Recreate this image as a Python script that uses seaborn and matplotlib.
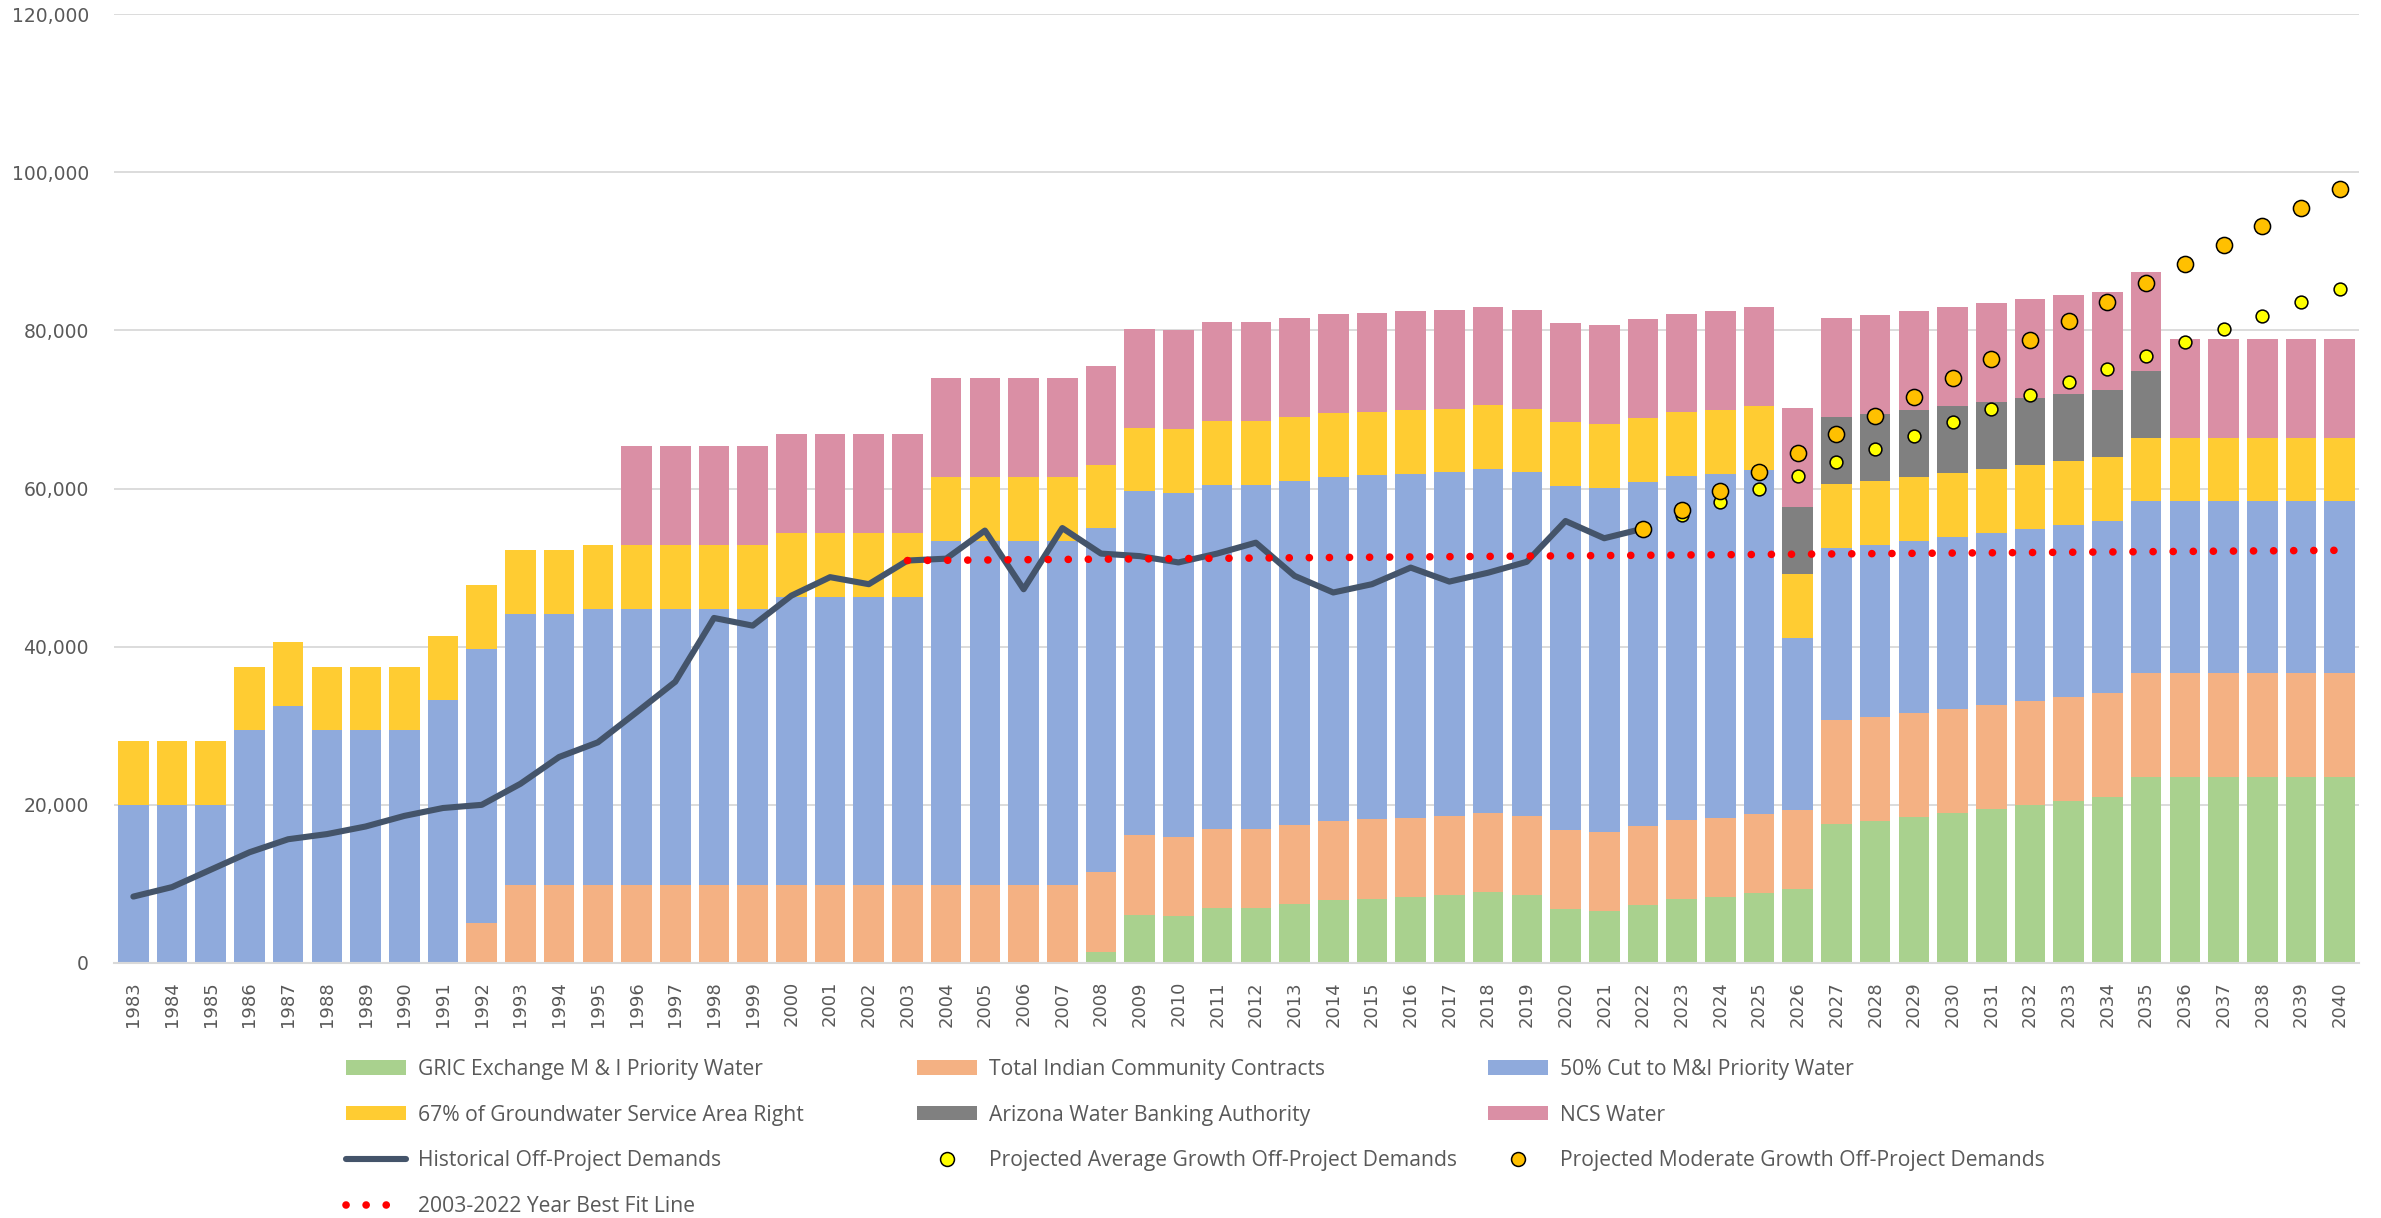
import matplotlib
matplotlib.use("Agg")
import matplotlib.pyplot as plt
import seaborn as sns
import pandas as pd
from matplotlib.patches import Patch
from matplotlib.lines import Line2D
from matplotlib.ticker import MultipleLocator, FuncFormatter

# ---------------- data ----------------
years = [1983, 1984, 1985, 1986, 1987, 1988, 1989, 1990, 1991, 1992,
         1993, 1994, 1995, 1996, 1997, 1998, 1999, 2000, 2001, 2002,
         2003, 2004, 2005, 2006, 2007, 2008, 2009, 2010, 2011, 2012,
         2013, 2014, 2015, 2016, 2017, 2018, 2019, 2020, 2021, 2022,
         2023, 2024, 2025, 2026, 2027, 2028, 2029, 2030, 2031, 2032,
         2033, 2034, 2035, 2036, 2037, 2038, 2039, 2040]

gric_exchange = [0, 0, 0, 0, 0, 0, 0, 0, 0, 0,
                 0, 0, 0, 0, 0, 0, 0, 0, 0, 0,
                 0, 0, 0, 0, 0, 1450, 6130, 5970, 6940, 6940,
                 7500, 7980, 8150, 8390, 8550, 8950, 8550, 6850, 6610, 7340,
                 8060, 8390, 8870, 9350, 17580, 17980, 18470, 19030, 19520, 20000,
                 20480, 20970, 23470, 23470, 23470, 23470, 23470, 23470]

indian_contracts = [0, 0, 0, 0, 0, 0, 0, 0, 0, 5080,
                    9850, 9850, 9850, 9850, 9850, 9850, 9850, 9850, 9850, 9850,
                    9850, 9850, 9850, 9850, 9850, 10000, 10000, 10000, 10000, 10000,
                    10000, 10000, 10000, 10000, 10000, 10000, 10000, 10000, 10000, 10000,
                    10000, 10000, 10000, 10000, 13150, 13150, 13150, 13150, 13150, 13150,
                    13150, 13150, 13150, 13150, 13150, 13150, 13150, 13150]

mi_cut = [20000, 20000, 20000, 29400, 32500, 29400, 29400, 29400, 33300, 34600,
          34260, 34260, 34910, 34910, 34910, 34910, 34910, 36440, 36440, 36440,
          36440, 43500, 43500, 43500, 43500, 43500, 43500, 43500, 43500, 43500,
          43500, 43500, 43500, 43500, 43500, 43500, 43500, 43500, 43500, 43500,
          43500, 43500, 43500, 21750, 21750, 21750, 21750, 21750, 21750, 21750,
          21750, 21750, 21750, 21750, 21750, 21750, 21750, 21750]

groundwater = [8060, 8060, 8060, 8060, 8060, 8060, 8060, 8060, 8060, 8060,
               8060, 8060, 8060, 8060, 8060, 8060, 8060, 8060, 8060, 8060,
               8060, 8060, 8060, 8060, 8060, 8060, 8060, 8060, 8060, 8060,
               8060, 8060, 8060, 8060, 8060, 8060, 8060, 8060, 8060, 8060,
               8060, 8060, 8060, 8060, 8060, 8060, 8060, 8060, 8060, 8060,
               8060, 8060, 8060, 8060, 8060, 8060, 8060, 8060]

awba = [0, 0, 0, 0, 0, 0, 0, 0, 0, 0,
        0, 0, 0, 0, 0, 0, 0, 0, 0, 0,
        0, 0, 0, 0, 0, 0, 0, 0, 0, 0,
        0, 0, 0, 0, 0, 0, 0, 0, 0, 0,
        0, 0, 0, 8470, 8470, 8470, 8470, 8470, 8470, 8470,
        8470, 8470, 8470, 0, 0, 0, 0, 0]

ncs_water = [0, 0, 0, 0, 0, 0, 0, 0, 0, 0,
             0, 0, 0, 12500, 12500, 12500, 12500, 12500, 12500, 12500,
             12500, 12500, 12500, 12500, 12500, 12500, 12500, 12500, 12500, 12500,
             12500, 12500, 12500, 12500, 12500, 12500, 12500, 12500, 12500, 12500,
             12500, 12500, 12500, 12500, 12500, 12500, 12500, 12500, 12500, 12500,
             12500, 12500, 12500, 12500, 12500, 12500, 12500, 12500]

hist_years = [1983, 1984, 1985, 1986, 1987, 1988, 1989, 1990, 1991, 1992,
              1993, 1994, 1995, 1996, 1997, 1998, 1999, 2000, 2001, 2002,
              2003, 2004, 2005, 2006, 2007, 2008, 2009, 2010, 2011, 2012,
              2013, 2014, 2015, 2016, 2017, 2018, 2019, 2020, 2021, 2022]
hist_demand = [8400, 9600, 11800, 14000, 15650, 16300, 17260, 18600, 19600, 20000,
               22660, 26050, 27900, 31700, 35560, 43630, 42660, 46450, 48790, 47900,
               50890, 51130, 54680, 47260, 55000, 51770, 51450, 50650, 51770, 53150,
               48950, 46850, 47900, 50000, 48230, 49350, 50730, 55890, 53710, 54920]

proj_years = [2022, 2023, 2024, 2025, 2026, 2027, 2028, 2029, 2030, 2031,
              2032, 2033, 2034, 2035, 2036, 2037, 2038, 2039, 2040]
proj_average = [54920, 56610, 58230, 60000, 61610, 63310, 65000, 66690, 68390, 70080,
                71770, 73470, 75080, 76770, 78470, 80160, 81850, 83550, 85240]
proj_moderate = [54920, 57340, 59680, 62100, 64520, 66860, 69190, 71610, 74030, 76370,
                 78790, 81210, 83550, 85970, 88390, 90730, 93150, 95480, 97900]

fit_years = [2003, 2004, 2005, 2006, 2007, 2008, 2009, 2010, 2011, 2012,
             2013, 2014, 2015, 2016, 2017, 2018, 2019, 2020, 2021, 2022,
             2023, 2024, 2025, 2026, 2027, 2028, 2029, 2030, 2031, 2032,
             2033, 2034, 2035, 2036, 2037, 2038, 2039, 2040]
best_fit = [50890, 50925, 50960, 50995, 51030, 51065, 51100, 51135, 51170, 51205,
            51240, 51275, 51310, 51345, 51380, 51415, 51450, 51485, 51520, 51555,
            51590, 51625, 51660, 51695, 51730, 51765, 51800, 51835, 51870, 51905,
            51940, 51975, 52010, 52045, 52080, 52115, 52150, 52185]

labels = ["GRIC Exchange M & I Priority Water", "Total Indian Community Contracts",
          "50% Cut to M&I Priority Water", "67% of Groundwater Service Area Right",
          "Arizona Water Banking Authority", "NCS Water",
          "Historical Off-Project Demands", "Projected Average Growth Off-Project Demands",
          "Projected Moderate Growth Off-Project Demands", "2003-2022 Year Best Fit Line"]

# ---------------- style ----------------
GREEN, ORANGE, BLUE = "#A9D18E", "#F4B183", "#8FAADC"
YELLOW, GRAY, PINK = "#FFCC32", "#808080", "#DA8FA5"
LINE = "#44546A"
TXT = "#595959"

sns.set_theme(style="white")
plt.rcParams["font.family"] = ["DejaVu Sans"]

W, H = 2381, 1218
fig = plt.figure(figsize=(W / 100, H / 100), dpi=100)
left, right, top, bottom = 114, 2359, 14, 963
ax = fig.add_axes([left / W, 1 - bottom / H, (right - left) / W, (bottom - top) / H])

df = pd.DataFrame({"year": years, "green": gric_exchange, "orange": indian_contracts,
                   "blue": mi_cut, "yellow": groundwater, "gray": awba, "pink": ncs_water})
stack_order = ["green", "orange", "blue", "yellow", "gray", "pink"]
colors = {"green": GREEN, "orange": ORANGE, "blue": BLUE, "yellow": YELLOW, "gray": GRAY, "pink": PINK}
cum = df[stack_order].cumsum(axis=1)
cum["year"] = df["year"]

# draw cumulative tops from the top layer down (stacked appearance)
for col in reversed(stack_order):
    sns.barplot(data=cum, x="year", y=col, native_scale=True, color=colors[col],
                saturation=1, width=0.79, errorbar=None, linewidth=0, ax=ax, zorder=2)

sns.lineplot(x=hist_years, y=hist_demand, color=LINE, linewidth=4.4, ax=ax,
             solid_capstyle="round", solid_joinstyle="round", zorder=4)
sns.scatterplot(x=proj_years, y=proj_average, color="#FFFF00", edgecolor="black",
                s=85, linewidth=1.1, ax=ax, zorder=5)
sns.scatterplot(x=proj_years, y=proj_moderate, color="#FFC000", edgecolor="black",
                s=135, linewidth=1.1, ax=ax, zorder=6)
sns.lineplot(x=fit_years, y=best_fit, color="#FF0000", linewidth=5.5, ax=ax, zorder=5)
fit_line = ax.lines[-1]
fit_line.set_linestyle((0, (0.01, 2.62)))
fit_line.set_dash_capstyle("round")

ax.set_xlim(1982.5, 2040.5)
ax.set_ylim(0, 120000)
ax.set_xticks(years)
ax.set_xticklabels([str(y) for y in years], rotation=90)
ax.yaxis.set_major_locator(MultipleLocator(20000))
ax.yaxis.set_major_formatter(FuncFormatter(lambda v, p: f"{v:,.0f}"))
ax.tick_params(axis="y", length=0, pad=18, labelsize=13.5, labelcolor=TXT)
ax.tick_params(axis="x", length=0, pad=13, labelsize=13, labelcolor=TXT)
ax.set_xlabel("")
ax.set_ylabel("")
ax.yaxis.grid(True, color="#D9D9D9", linewidth=1.3)
ax.xaxis.grid(False)
ax.set_axisbelow(True)
for s in ["left", "right", "top"]:
    ax.spines[s].set_visible(False)
ax.spines["bottom"].set_color("#D9D9D9")
ax.spines["bottom"].set_linewidth(1.5)

# ---------------- legend (3 equally spaced columns) ----------------
FS = 15.2
h_green = Patch(facecolor=GREEN, edgecolor="none", label=labels[0])
h_orange = Patch(facecolor=ORANGE, edgecolor="none", label=labels[1])
h_blue = Patch(facecolor=BLUE, edgecolor="none", label=labels[2])
h_yellow = Patch(facecolor=YELLOW, edgecolor="none", label=labels[3])
h_gray = Patch(facecolor=GRAY, edgecolor="none", label=labels[4])
h_pink = Patch(facecolor=PINK, edgecolor="none", label=labels[5])
h_hist = Line2D([], [], color=LINE, linewidth=4.4, solid_capstyle="round", label=labels[6])
h_avg = Line2D([], [], linestyle="none", marker="o", markersize=10, markerfacecolor="#FFFF00",
               markeredgecolor="black", markeredgewidth=1.1, label=labels[7])
h_mod = Line2D([], [], linestyle="none", marker="o", markersize=10, markerfacecolor="#FFC000",
               markeredgecolor="black", markeredgewidth=1.1, label=labels[8])
h_fit = Line2D([], [], color="#FF0000", linewidth=5.5, linestyle=(0, (0.01, 2.62)),
               dash_capstyle="round", label=labels[9])

fs_px = FS * 100 / 72
columns = [([h_green, h_yellow, h_hist, h_fit], 346),
           ([h_orange, h_gray, h_avg], 917),
           ([h_blue, h_pink, h_mod], 1488)]
for handles, x0 in columns:
    fig.legend(handles=handles, loc="upper left", bbox_to_anchor=(x0 / W, 1 - 1059 / H),
               bbox_transform=fig.transFigure, frameon=False, borderpad=0, borderaxespad=0,
               handlelength=60 / fs_px, handleheight=14 / fs_px, handletextpad=12 / fs_px,
               labelspacing=1.17, prop={"family": "Open Sans", "size": FS}, labelcolor=TXT)

fig.savefig("out.png", dpi=100)
